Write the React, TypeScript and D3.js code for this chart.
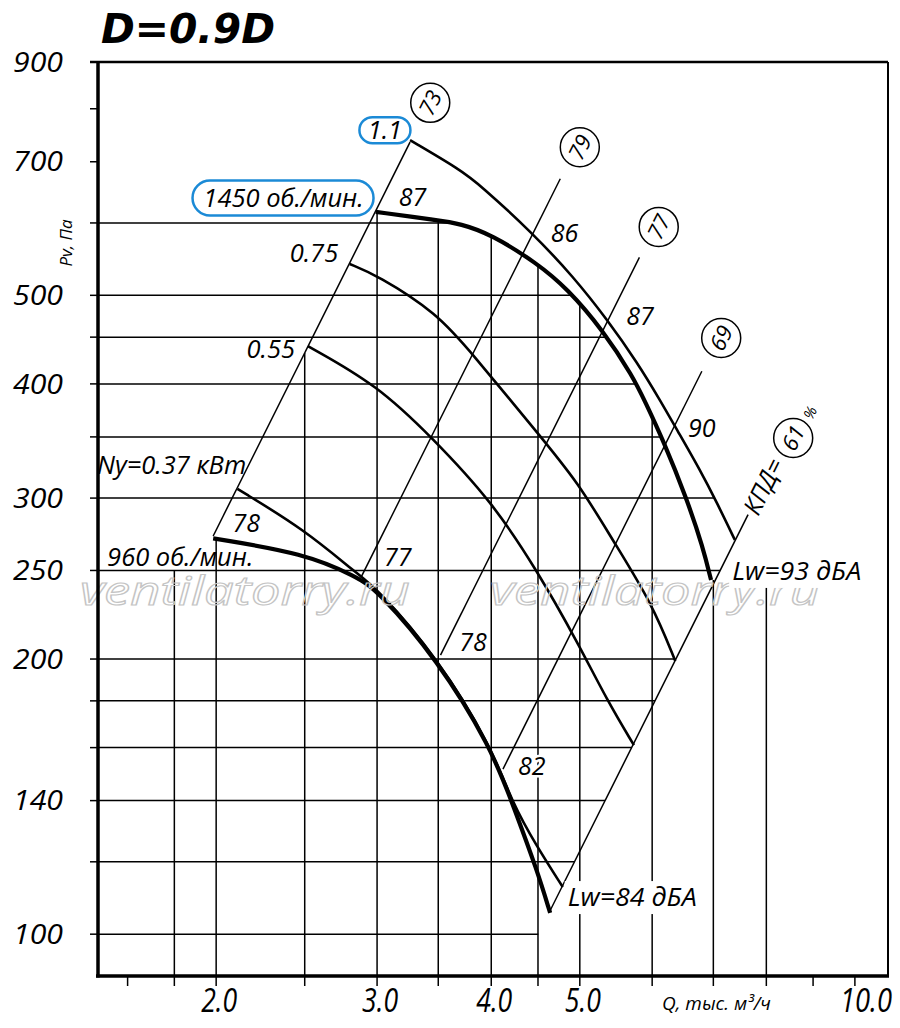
import { curveBasis, line, scaleLog } from 'd3'

const chartWidth = 900
const chartHeight = 1028

const frame = { left: 98, right: 888, top: 62, bottom: 976 }

// Q, тыс. м3/ч and Pv, Па
const flowDomain = [1.485, 10.87]
const pressureDomain = [90, 900]

const flowTicks = [1.6, 1.8, 2, 2.5, 3, 3.5, 4, 4.5, 5, 6, 7, 8, 9, 10]
const flowLabelValues = [2, 3, 4, 5, 10]
const flowLabelTexts = ['2.0', '3.0', '4.0', '5.0', '10.0']
const pressureTicks = [900, 800, 700, 600, 500, 450, 400, 350, 300, 250, 200, 180, 160, 140, 120, 100]
const pressureLabelValues = [900, 700, 500, 400, 300, 250, 200, 140, 100]
const flowGrid = [1.8, 2, 2.5, 3, 3.5, 4, 4.5, 5, 6, 7, 8]
const pressureGrid = [600, 500, 450, 400, 350, 300, 250, 200, 180, 160, 140, 120, 100]

// fan speed curves
const flow1450 = [2.99, 3.49, 3.7, 4.0, 4.49, 4.84, 5.3, 5.72, 5.89, 6.17, 6.55, 6.82, 6.96]
const pressure1450 = [617, 604, 599, 583, 542, 509, 458, 407, 383, 347, 299, 265, 244]
const flow960 = [1.985, 2.5, 2.85, 3.0, 3.49, 4.0, 4.23, 4.49, 4.64]
const pressure960 = [271, 261, 246, 238, 200, 160, 138, 117.5, 105.5]

// motor power curves, кВт
const flow11 = [3.26, 3.7, 3.89, 4.43, 4.92, 5.36, 5.78, 6.12, 6.39, 6.77, 7.07, 7.39]
const pressure11 = [739, 686, 660, 586, 524, 470, 422, 384, 356, 322, 296, 270]
const flow075 = [2.8, 3.0, 3.49, 3.81, 4.49, 4.98, 5.43, 6.0, 6.36]
const pressure075 = [541, 526, 478, 432, 354, 312, 270, 230, 199]
const flow055 = [2.52, 3.0, 3.45, 4.0, 4.49, 4.98, 5.36, 5.73]
const pressure055 = [440, 399, 349, 298, 250, 208, 180, 161]
const flow037 = [2.11, 2.5, 2.85, 3.0, 3.49, 4.0, 4.22, 4.49, 4.79]
const pressure037 = [307, 277, 248, 239, 201, 160.5, 139, 124.6, 112.6]

// efficiency rays, Pv = k * Q^2
const efficiency = [73, 79, 77, 69, 61]
const rayCoef = [69.2, 29.6, 16.3, 8.93, 4.93]
const rayFlowStart = [1.985, 2.88, 3.52, 4.12, 4.64]
const rayFlowEnd = [3.26, 4.76, 5.81, 6.8, 7.64]

// sound power levels, дБА
const noise1450 = [87, 86, 87, 90]
const noise960 = [78, 77, 78, 82]
const noiseTotals = ['Lw=93 дБА', 'Lw=84 дБА']

const speedLabels = ['1450 об./мин.', '960 об./мин.']
const powerLabels = ['1.1', '0.75', '0.55', 'Ny=0.37 кВт']

// where annotations sit, in chart units [Q, Pv]
const noise1450At = [[3.28, 640], [4.81, 585], [5.82, 475], [6.8, 358]]
const noise960At = [[2.157, 282], [3.16, 258.6], [3.82, 208.7], [4.43, 152.7]]
const noiseTotalsAt = [[7.34, 249.7], [4.85, 109.8]]
const efficiencyAt = [[3.43, 812], [5.0, 726], [6.1, 594], [7.14, 449], [8.56, 349]]
const powerLabelsAt = [[3.06, 758], [2.72, 556], [2.44, 437], [2.157, 326]]
const speedLabelsAt = [[2.37, 639], [2.197, 258.6]]
const efficiencyTitleAt = [7.68, 289]
const percentAt = [8.93, 372]

const labelFont = '"Open Sans", sans-serif'
const accent = '#1b8ad6'

const xScale = scaleLog().domain(flowDomain).range([frame.left, frame.right])
const yScale = scaleLog().domain(pressureDomain).range([frame.bottom, frame.top])

type Point = [number, number]

const zip = (qs: number[], ps: number[]): Point[] => qs.map((q, i) => [q, ps[i]])

// log-log interpolation on a polyline
function interpolate(xs: number[], ys: number[], x: number) {
  for (let i = 0; i < xs.length - 1; i++) {
    const a = Math.min(xs[i], xs[i + 1])
    const b = Math.max(xs[i], xs[i + 1])
    if (x >= a && x <= b) {
      const t = (Math.log(x) - Math.log(xs[i])) / (Math.log(xs[i + 1]) - Math.log(xs[i]))
      return Math.exp(Math.log(ys[i]) + t * (Math.log(ys[i + 1]) - Math.log(ys[i])))
    }
  }
  return NaN
}

// upper end of a vertical grid line
function gridTop(q: number) {
  const last = flow1450.length - 1
  if (q >= flow1450[0] - 0.02) {
    return q <= flow1450[last] ? interpolate(flow1450, pressure1450, Math.max(q, flow1450[0])) : pressure1450[last]
  }
  if (q >= 2.2) return rayCoef[0] * q * q
  if (q >= flow960[0]) return interpolate(flow960, pressure960, q)
  return 250
}

// right end of a horizontal grid line
function gridRight(p: number) {
  if (p > 300) return interpolate(pressure1450, flow1450, p)
  if (p >= pressure11[pressure11.length - 1]) return interpolate(pressure11, flow11, p)
  return Math.sqrt(p / rayCoef[rayCoef.length - 1])
}

const curvePath = line<Point>()
  .x((d) => xScale(d[0]))
  .y((d) => yScale(d[1]))
  .curve(curveBasis)

const rayPath = line<Point>()
  .x((d) => xScale(d[0]))
  .y((d) => yScale(d[1]))

const rayAngle = (() => {
  const k = rayCoef[4]
  const dx = xScale(rayFlowEnd[4]) - xScale(rayFlowStart[4])
  const dy = yScale(k * rayFlowEnd[4] ** 2) - yScale(k * rayFlowStart[4] ** 2)
  return (Math.atan2(dy, dx) * 180) / Math.PI
})()

const powerCurves = [
  zip(flow11, pressure11),
  zip(flow075, pressure075),
  zip(flow055, pressure055),
  zip(flow037, pressure037),
]

function App() {
  const textStyle = { fontFamily: labelFont, fontStyle: 'italic' as const }

  return (
    <svg
      width={chartWidth}
      height={chartHeight}
      viewBox={`0 0 ${chartWidth} ${chartHeight}`}
      style={{ position: 'absolute', left: 0, top: 0, background: '#fff' }}
    >
      <rect width={chartWidth} height={chartHeight} fill="#fff" />

      <text
        x={101}
        y={43}
        fontFamily='"DejaVu Sans", sans-serif'
        fontWeight="bold"
        fontStyle="italic"
        fontSize={41}
        textLength={174}
        lengthAdjust="spacingAndGlyphs"
        fill="#000"
      >
        D=0.9D
      </text>

      {/* grid */}
      <g stroke="#000" strokeWidth={1.5}>
        {pressureGrid.map((p) => (
          <line
            key={`h-${p}`}
            x1={frame.left}
            x2={xScale(gridRight(p))}
            y1={yScale(p)}
            y2={yScale(p)}
          />
        ))}
        {flowGrid.map((q) => (
          <line
            key={`v-${q}`}
            x1={xScale(q)}
            x2={xScale(q)}
            y1={frame.bottom}
            y2={yScale(gridTop(q))}
          />
        ))}
      </g>

      {/* efficiency rays */}
      <g stroke="#000" strokeWidth={1.5} fill="none">
        {efficiency.map((eff, i) => (
          <path
            key={`ray-${eff}-${i}`}
            d={
              rayPath([
                [rayFlowStart[i], rayCoef[i] * rayFlowStart[i] ** 2],
                [rayFlowEnd[i], rayCoef[i] * rayFlowEnd[i] ** 2],
              ]) ?? ''
            }
          />
        ))}
      </g>

      {/* power curves */}
      <g stroke="#000" strokeWidth={2.6} fill="none">
        {powerCurves.map((pts, i) => (
          <path key={`power-${i}`} d={curvePath(pts) ?? ''} />
        ))}
      </g>

      {/* speed curves */}
      <g stroke="#000" strokeWidth={4.2} fill="none" strokeLinejoin="round">
        <path d={curvePath(zip(flow1450, pressure1450)) ?? ''} />
        <path d={curvePath(zip(flow960, pressure960)) ?? ''} />
      </g>

      {/* watermark */}
      <g
        fontFamily={labelFont}
        fontStyle="italic"
        fontSize={41}
        fill="none"
        stroke="#c4c4c4"
        strokeWidth={1.2}
      >
        <text x={80} y={605} textLength={330} lengthAdjust="spacingAndGlyphs">
          ventilatorry.ru
        </text>
        <text x={490} y={605} textLength={330} lengthAdjust="spacingAndGlyphs">
          ventilatorry.ru
        </text>
      </g>

      {/* frame */}
      <g stroke="#000" fill="none">
        <line x1={90} x2={frame.right} y1={frame.top} y2={frame.top} strokeWidth={2.5} />
        <line x1={frame.right} x2={frame.right} y1={frame.top} y2={frame.bottom} strokeWidth={2} />
        <line x1={frame.left} x2={frame.left} y1={frame.top} y2={frame.bottom + 1.5} strokeWidth={3.5} />
        <line x1={frame.left - 2} x2={frame.right + 1} y1={frame.bottom} y2={frame.bottom} strokeWidth={3.5} />
        {pressureTicks.map((p) => (
          <line key={`yt-${p}`} x1={90} x2={frame.left} y1={yScale(p)} y2={yScale(p)} strokeWidth={1.5} />
        ))}
        {flowTicks.map((q) => (
          <line key={`xt-${q}`} x1={xScale(q)} x2={xScale(q)} y1={frame.bottom} y2={frame.bottom + 10} strokeWidth={1.5} />
        ))}
      </g>

      {/* axis labels */}
      <g {...textStyle} fill="#000">
        {pressureLabelValues.map((p) => (
          <text
            key={`yl-${p}`}
            x={63}
            y={yScale(p)}
            dy="0.36em"
            textAnchor="end"
            fontSize={27}
            textLength={50}
            lengthAdjust="spacingAndGlyphs"
          >
            {p}
          </text>
        ))}
        {flowLabelValues.map((q, i) => {
          const isLast = i === flowLabelValues.length - 1
          return (
            <text
              key={`xl-${q}`}
              x={isLast ? 892 : xScale(q) + 3}
              y={1012}
              textAnchor={isLast ? 'end' : 'middle'}
              fontSize={32}
              textLength={isLast ? 52 : 36}
              lengthAdjust="spacingAndGlyphs"
            >
              {flowLabelTexts[i]}
            </text>
          )
        })}
        <text x={662} y={1010} fontSize={19}>
          Q, тыс. м³/ч
        </text>
        <text transform="translate(72, 243) rotate(-90)" textAnchor="middle" fontSize={17}>
          Pv, Па
        </text>
      </g>

      {/* power and speed labels */}
      <g {...textStyle} fill="#000" fontSize={25.5}>
        {powerLabels.map((label, i) => {
          const [q, p] = powerLabelsAt[i]
          const centered = i === 0
          return (
            <text
              key={`pl-${label}`}
              x={xScale(q)}
              y={yScale(p)}
              dy="0.36em"
              textAnchor={centered ? 'middle' : 'end'}
            >
              {label}
            </text>
          )
        })}
        {speedLabels.map((label, i) => {
          const [q, p] = speedLabelsAt[i]
          return (
            <text
              key={`sl-${label}`}
              x={xScale(q)}
              y={yScale(p)}
              dy="0.36em"
              textAnchor={i === 0 ? 'middle' : 'end'}
            >
              {label}
            </text>
          )
        })}
      </g>

      {/* blue highlight boxes */}
      <g fill="none" stroke={accent} strokeWidth={2.5}>
        <rect
          x={xScale(powerLabelsAt[0][0]) - 25.5}
          y={yScale(powerLabelsAt[0][1]) - 13}
          width={51}
          height={26}
          rx={13}
        />
        <rect
          x={xScale(speedLabelsAt[0][0]) - 91}
          y={yScale(speedLabelsAt[0][1]) - 17.5}
          width={181}
          height={35}
          rx={17.5}
        />
      </g>

      {/* noise levels */}
      <g {...textStyle} fill="#000" fontSize={25}>
        {[...noise1450, ...noise960].map((value, i) => {
          const [q, p] = [...noise1450At, ...noise960At][i]
          return (
            <text
              key={`n-${i}`}
              x={xScale(q)}
              y={yScale(p)}
              dy="0.36em"
              textAnchor="middle"
              stroke="#fff"
              strokeWidth={5}
              paintOrder="stroke"
            >
              {value}
            </text>
          )
        })}
        {noiseTotals.map((label, i) => {
          const [q, p] = noiseTotalsAt[i]
          const x = xScale(q)
          const y = yScale(p)
          return (
            <g key={`nt-${label}`}>
              <rect x={x - 3} y={y - 16} width={136} height={33} fill="#fff" />
              <text x={x} y={y} dy="0.36em" textLength={129} lengthAdjust="spacingAndGlyphs">
                {label}
              </text>
            </g>
          )
        })}
      </g>

      {/* efficiency marks */}
      <g {...textStyle} fill="#000">
        {efficiency.map((eff, i) => {
          const [q, p] = efficiencyAt[i]
          const cx = xScale(q)
          const cy = yScale(p)
          return (
            <g key={`eff-${eff}`} transform={`translate(${cx}, ${cy})`}>
              <circle r={19.5} fill="#fff" stroke="#000" strokeWidth={1.5} />
              <text transform={`rotate(${rayAngle})`} textAnchor="middle" dy="0.36em" fontSize={22}>
                {eff}
              </text>
            </g>
          )
        })}
        <text
          transform={`translate(${xScale(efficiencyTitleAt[0])}, ${yScale(efficiencyTitleAt[1])}) rotate(${rayAngle})`}
          dy="0.36em"
          fontSize={25}
          textLength={59}
          lengthAdjust="spacingAndGlyphs"
        >
          КПД=
        </text>
        <text
          transform={`translate(${xScale(percentAt[0])}, ${yScale(percentAt[1])}) rotate(${rayAngle})`}
          dy="0.36em"
          textAnchor="middle"
          fontSize={15}
        >
          %
        </text>
      </g>
    </svg>
  )
}

export default App
